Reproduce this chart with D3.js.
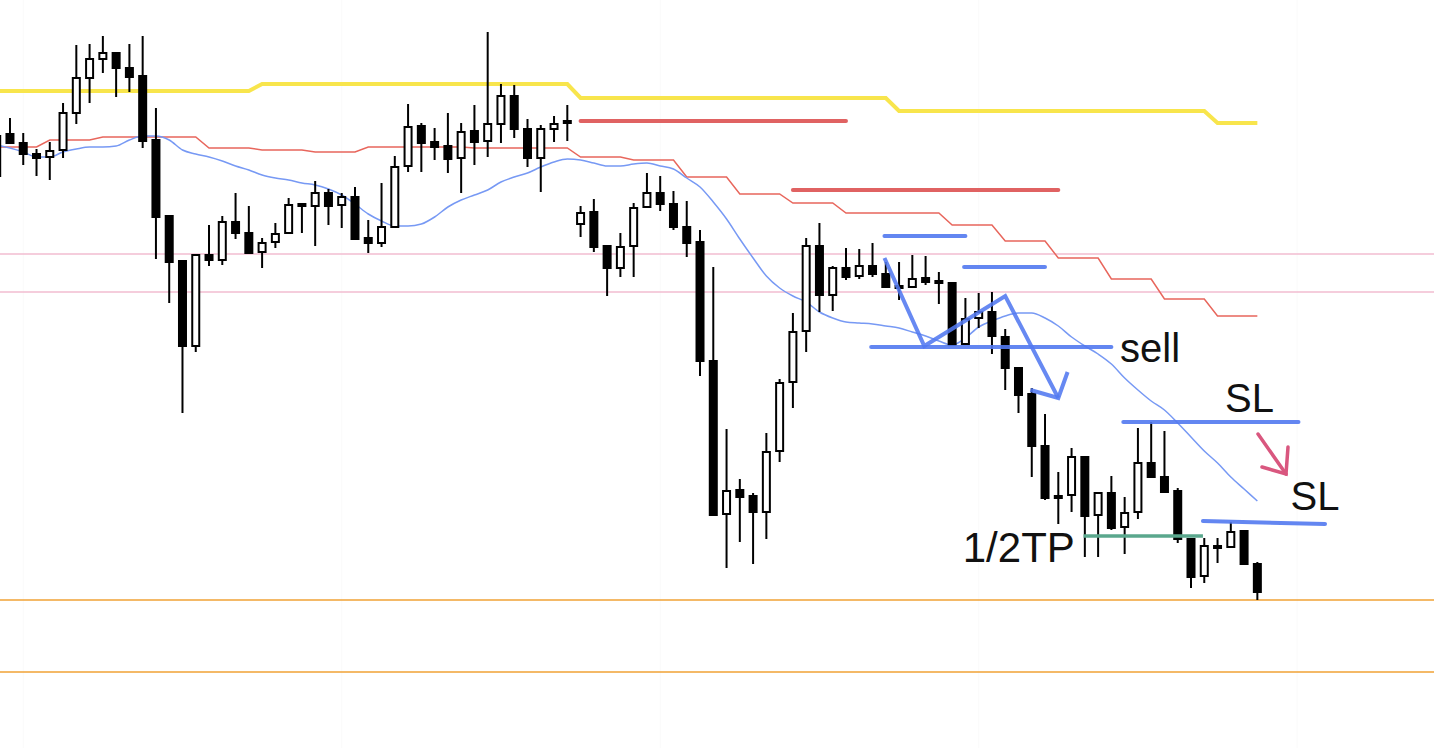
<!DOCTYPE html>
<html><head><meta charset="utf-8">
<script src="https://cdn.jsdelivr.net/npm/d3@7"></script>
<style>html,body{margin:0;padding:0;background:#fff;overflow:hidden}</style>
</head><body>
<svg id="c" width="1434" height="748"></svg>
<script>
// ---- data (price units, arbitrary index) ----
const opens  = [864,866,857,846,843,850,887,922,941,947,932,924,860,784,739,654,745,740,778,767,748,758,767,796,794,807,795,803,762,757,773,834,874,858,854,842,869,859,876,904,871,842,871,879,776,788,754,732,754,793,807,796,773,758,639,486,510,504,488,549,618,669,754,705,732,724,734,726,714,713,722,719,717,656,682,688,663,632,606,554,504,505,543,485,507,473,488,537,523,509,461,424,454,453,469,436];
const highs  = [866,882,867,851,858,897,955,956,964,948,956,964,892,784,739,746,775,784,807,794,762,777,802,796,819,811,807,813,780,817,844,896,877,872,887,877,895,968,916,915,881,875,884,895,794,801,754,767,797,827,824,809,799,770,733,571,521,507,567,621,687,762,777,734,752,751,757,738,738,745,744,728,717,702,707,708,671,632,612,586,528,552,543,508,524,503,572,578,569,512,461,462,462,478,470,438];
const lows   = [822,856,835,824,820,842,876,897,927,903,908,852,741,697,587,648,734,735,761,747,732,752,766,767,754,775,772,761,747,753,773,828,828,840,827,807,835,843,857,862,833,808,858,859,763,748,704,723,723,792,789,770,743,624,485,432,458,436,461,538,592,648,688,689,720,721,723,712,700,713,715,696,654,655,672,646,610,587,523,500,476,488,443,443,470,446,481,523,507,457,412,417,437,453,435,400];
const closes = [824,857,846,842,849,887,922,941,947,932,923,859,783,738,654,745,740,778,767,747,757,766,795,794,807,794,803,761,757,773,833,873,857,853,841,868,858,876,904,871,842,871,876,877,787,753,732,753,792,807,796,773,757,639,485,509,503,488,548,617,668,754,705,732,723,734,726,713,712,721,718,718,655,681,688,664,632,605,554,502,502,543,484,507,472,487,537,523,508,461,423,454,453,468,436,408];
const maLine = [855,852,848,843,843,848,851,853,853,854,860,864,864,860,850,846,843,839,834,830,825,822,820,817,815,811,805,796,786,779,774,774,776,783,793,800,805,810,818,823,827,833,838,841,840,837,834,834,836,837,834,831,822,813,798,781,761,742,724,712,704,698,688,682,678,677,676,674,672,668,664,659,655,662,673,679,684,687,687,682,674,663,654,646,636,622,610,599,590,577,563,549,537,523,511,499];
const baseLine = [853,853,853,853,860,860,860,860,863,863,863,863,863,863,863,863,852,852,852,852,850,850,850,850,848,848,848,848,853,853,853,853,853,853,853,853,852,852,852,852,852,852,852,852,843,843,843,843,840,840,840,840,823,823,823,823,806,806,806,806,797,797,797,797,787,787,787,787,787,787,787,787,775,775,775,775,759,759,759,759,742,742,742,742,721,721,721,721,701,701,701,701,684,684,684,684];
const upperLine = [909,909,909,909,909,909,909,909,909,909,909,909,909,909,909,909,909,909,909,909,916,916,916,916,916,916,916,916,916,916,916,916,916,916,916,916,916,916,916,916,916,916,916,916,902,902,902,902,902,902,902,902,902,902,902,902,902,902,902,902,902,902,902,902,902,902,902,902,889,889,889,889,889,889,889,889,889,889,889,889,889,889,889,889,889,889,889,889,889,889,889,889,877,877,877,877];

// horizontal levels
const pinkLevels = [746, 708];
const orangeLevels = [400, 328];
const gridIdx = [2, 26, 50, 74, 98];

// annotations [x0 index, x1 index, price]
const redSegments = [[44.0, 64.0, 879], [60.0, 80.0, 810]];
const blueSegments = [[66.9, 73.0, 764], [72.9, 79.0, 733], [65.9, 84.0, 653], [84.9, 98.1, 578]];
const slSlanted = [[90.9, 479], [100.1, 476]];
const tpSegment = [81.9, 90.9, 464];
const zigzag = [[66.9, 742], [69.9, 654], [76.0, 704], [80.0, 602]];
const zigHead = [[80.7, 628], [80.0, 602], [77.9, 610]];
const pinkArrow = [[95.05, 566], [97.16, 526]];
const pinkHead = [[95.35, 533], [97.16, 526], [97.31, 553]];
const labels = [
  {t: "sell", i: 84.65, p: 638, s: 40},
  {t: "SL", i: 92.56, p: 588, s: 40},
  {t: "SL", i: 97.5, p: 490, s: 40},
  {t: "1/2TP", i: 72.8, p: 438, s: 42}
];

// ---- scales ----
const W = 1434, H = 748;
const x = d3.scaleLinear().domain([0, 95]).range([-3.3, 1257.35]);
const y = d3.scaleLinear().domain([1000, 252]).range([0, 748]);
const svg = d3.select("#c");
const idx = d3.range(opens.length);

// grid
svg.append("g").selectAll("line").data(gridIdx).join("line")
  .attr("x1", d => x(d)).attr("x2", d => x(d)).attr("y1", 0).attr("y2", H)
  .attr("stroke", "#fafafa").attr("stroke-width", 1);

// horizontal levels
svg.append("g").selectAll("line").data(pinkLevels).join("line")
  .attr("x1", 0).attr("x2", W).attr("y1", d => y(d)).attr("y2", d => y(d))
  .attr("stroke", "#f2bdd0").attr("stroke-width", 1.6);
svg.append("g").selectAll("line").data(orangeLevels).join("line")
  .attr("x1", 0).attr("x2", W).attr("y1", d => y(d)).attr("y2", d => y(d))
  .attr("stroke", "#f0a234").attr("stroke-width", 1.6);

const lineGen = d3.line().x(d => x(d[0])).y(d => y(d[1]));

// indicator lines
svg.append("path").datum(idx.map(i => [i, upperLine[i]]))
  .attr("d", lineGen).attr("fill", "none").attr("stroke", "#f8e54c").attr("stroke-width", 4);
svg.append("path").datum(idx.map(i => [i, baseLine[i]]))
  .attr("d", lineGen).attr("fill", "none").attr("stroke", "#e8665c").attr("stroke-width", 1.5);
svg.append("path").datum(idx.map(i => [i, maLine[i]]))
  .attr("d", d3.line().x(d => x(d[0])).y(d => y(d[1])).curve(d3.curveMonotoneX))
  .attr("fill", "none").attr("stroke", "#7799f4").attr("stroke-width", 1.5);

// candles
const cg = svg.append("g");
cg.selectAll("line.w").data(idx).join("line").attr("class", "w")
  .attr("x1", i => x(i)).attr("x2", i => x(i))
  .attr("y1", i => y(highs[i])).attr("y2", i => y(lows[i]))
  .attr("stroke", "#000").attr("stroke-width", 2);
cg.selectAll("rect").data(idx).join("rect")
  .each(function(i) {
    const up = closes[i] > opens[i];
    const top = y(Math.max(opens[i], closes[i]));
    const bot = y(Math.min(opens[i], closes[i]));
    const h = Math.max(bot - top, 2);
    const r = d3.select(this);
    if (up) {
      r.attr("x", x(i) - 3.5).attr("width", 7).attr("y", top).attr("height", Math.max(h, 3))
       .attr("fill", "#fff").attr("stroke", "#000").attr("stroke-width", 2);
    } else {
      r.attr("x", x(i) - 4.5).attr("width", 9).attr("y", top - 1).attr("height", h + 2)
       .attr("fill", "#000");
    }
  });

// annotations
const ag = svg.append("g");
ag.selectAll("line.r").data(redSegments).join("line").attr("class", "r")
  .attr("x1", d => x(d[0])).attr("x2", d => x(d[1])).attr("y1", d => y(d[2])).attr("y2", d => y(d[2]))
  .attr("stroke", "#e06262").attr("stroke-width", 4).attr("stroke-linecap", "round");
ag.selectAll("line.b").data(blueSegments).join("line").attr("class", "b")
  .attr("x1", d => x(d[0])).attr("x2", d => x(d[1])).attr("y1", d => y(d[2])).attr("y2", d => y(d[2]))
  .attr("stroke", "#5279f0").attr("stroke-opacity", 0.9).attr("stroke-width", 4).attr("stroke-linecap", "round");
ag.append("path").datum(slSlanted).attr("d", lineGen).attr("fill", "none")
  .attr("stroke", "#5279f0").attr("stroke-opacity", 0.9).attr("stroke-width", 4).attr("stroke-linecap", "round");
ag.append("line")
  .attr("x1", x(tpSegment[0])).attr("x2", x(tpSegment[1])).attr("y1", y(tpSegment[2])).attr("y2", y(tpSegment[2]))
  .attr("stroke", "#5aa78d").attr("stroke-width", 3.5);
ag.append("path").datum(zigzag).attr("d", lineGen).attr("fill", "none")
  .attr("stroke", "#5279f0").attr("stroke-opacity", 0.88).attr("stroke-width", 4).attr("stroke-linejoin", "miter");
ag.append("path").datum(zigHead).attr("d", lineGen).attr("fill", "none")
  .attr("stroke", "#5279f0").attr("stroke-opacity", 0.88).attr("stroke-width", 4).attr("stroke-linejoin", "miter");
ag.append("path").datum(pinkArrow).attr("d", lineGen).attr("fill", "none")
  .attr("stroke", "#d9577f").attr("stroke-width", 3.5).attr("stroke-linecap", "round");
ag.append("path").datum(pinkHead).attr("d", lineGen).attr("fill", "none")
  .attr("stroke", "#d9577f").attr("stroke-width", 3.5).attr("stroke-linecap", "round");

ag.selectAll("text").data(labels).join("text")
  .attr("x", d => x(d.i)).attr("y", d => y(d.p))
  .attr("font-family", "Liberation Sans, Arial, Helvetica, sans-serif")
  .attr("font-size", d => d.s).attr("fill", "#111")
  .text(d => d.t);
</script>
</body></html>
